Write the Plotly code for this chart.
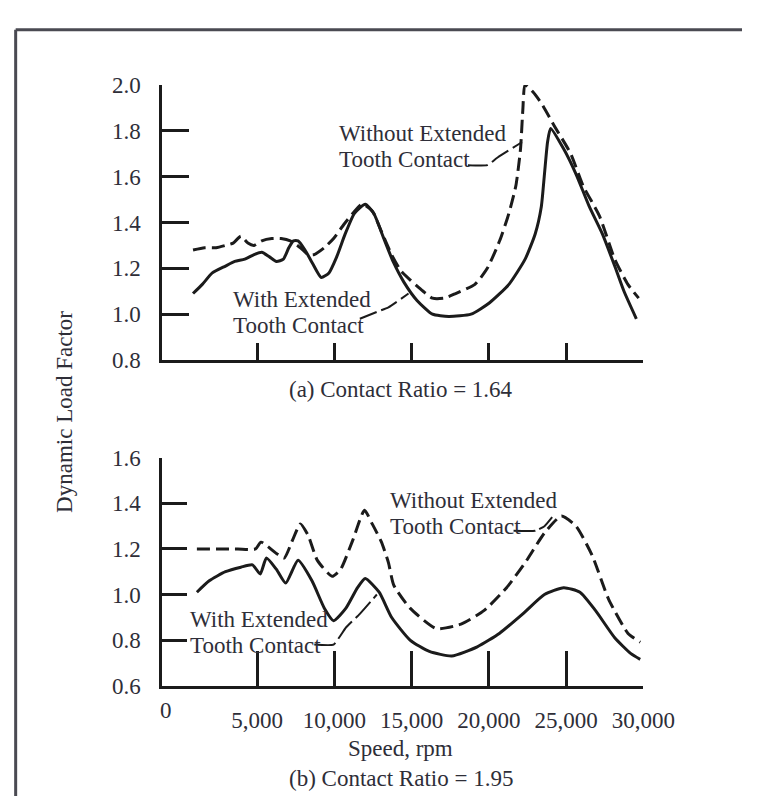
import plotly.graph_objects as go

# ---------------- data ----------------
# Panel (a) Contact Ratio = 1.64
a_with_rpm = [850, 1450, 2100, 2950, 3550, 4200, 4800, 5300, 5800, 6250, 6700, 7050, 7350, 7650,
              8100, 8600, 9150, 9650, 10150, 10700, 11300, 12000, 12550, 13200, 13800, 14500,
              15350, 16350, 17400, 18850, 20050, 21300, 22350, 23000, 23400, 23600, 23800, 24000,
              24850, 25650, 26500, 27350, 28150, 28750, 29550]
a_with_dlf = [1.09, 1.13, 1.18, 1.21, 1.23, 1.24, 1.26, 1.27, 1.25, 1.23, 1.24, 1.29, 1.32, 1.32,
              1.28, 1.22, 1.16, 1.18, 1.25, 1.35, 1.44, 1.48, 1.44, 1.33, 1.23, 1.14,
              1.06, 1.00, 0.99, 1.00, 1.05, 1.13, 1.24, 1.35, 1.47, 1.61, 1.75, 1.81,
              1.72, 1.61, 1.47, 1.35, 1.21, 1.10, 0.98]

a_without_rpm = [850, 1600, 2350, 2950, 3450, 3950, 4400, 4800, 5300, 5950, 6550, 7150, 7800, 8300,
                 8700, 9350, 9950, 10600, 11200, 11800, 12450, 13050, 13700, 14300, 14900, 15750,
                 16350, 17100, 17850, 19100, 19900, 20700, 21300, 21750, 22050, 22200, 22350,
                 22850, 23400, 24250, 25300, 26100, 27150, 28150, 29000, 29700]
a_without_dlf = [1.28, 1.29, 1.29, 1.30, 1.31, 1.34, 1.31, 1.30, 1.32, 1.33, 1.33, 1.32, 1.29, 1.26,
                 1.26, 1.29, 1.33, 1.39, 1.44, 1.48, 1.45, 1.36, 1.26, 1.19, 1.15, 1.10,
                 1.07, 1.07, 1.09, 1.13, 1.20, 1.32, 1.44, 1.56, 1.72, 1.89, 2.00,
                 1.97, 1.92, 1.82, 1.70, 1.56, 1.43, 1.24, 1.13, 1.07]

# Panel (b) Contact Ratio = 1.95
b_with_rpm = [1100, 1900, 2950, 3950, 4700, 5200, 5600, 6250, 6850, 7650, 8550, 9350, 9950, 10750,
              11500, 12000, 12900, 13700, 14900, 16150, 17600, 19250, 20700, 22200, 23600, 24850,
              25900, 26900, 28150, 29200, 29800]
b_with_dlf = [1.01, 1.06, 1.10, 1.12, 1.13, 1.09, 1.16, 1.11, 1.05, 1.15, 1.06, 0.94, 0.885, 0.94,
              1.03, 1.07, 1.01, 0.90, 0.80, 0.75, 0.73, 0.77, 0.83, 0.915, 1.00, 1.03,
              1.01, 0.93, 0.81, 0.74, 0.715]

b_without_rpm = [1100, 2350, 3750, 4900, 5250, 6250, 6750, 7300, 7800, 8300, 8900, 9850, 10400, 11200,
                 11950, 12450, 13050, 13500, 13850, 14900, 16600, 18200, 19700, 21150, 22350, 23600,
                 24700, 25650, 26700, 27750, 29000, 29800]
b_without_dlf = [1.20, 1.20, 1.20, 1.20, 1.23, 1.18, 1.16, 1.24, 1.31, 1.26, 1.15, 1.08, 1.11, 1.24,
                 1.37, 1.31, 1.23, 1.14, 1.04, 0.94, 0.85, 0.87, 0.93, 1.03, 1.14, 1.27,
                 1.345, 1.30, 1.17, 0.98, 0.83, 0.79]

# leader lines (label -> curve)
a_lead_without_rpm = [18650, 19900, 20500, 20950, 21900, 22150]
a_lead_without_dlf = [1.65, 1.65, 1.68, 1.70, 1.74, 1.75]
a_lead_with_rpm = [11650, 12750, 13500, 14800]
a_lead_with_dlf = [0.98, 1.01, 1.03, 1.09]
b_lead_without_rpm = [21600, 23000, 23600, 24100]
b_lead_without_dlf = [1.28, 1.28, 1.30, 1.34]
b_lead_with_rpm = [8700, 9950, 10750, 11650, 12750]
b_lead_with_dlf = [0.78, 0.78, 0.855, 0.915, 1.00]

x_tickvals = [5000, 10000, 15000, 20000, 25000, 30000]
x_ticktext = ["5,000", "10,000", "15,000", "20,000", "25,000", "30,000"]
a_y_tickvals = [0.8, 1.0, 1.2, 1.4, 1.6, 1.8, 2.0]
b_y_tickvals = [0.6, 0.8, 1.0, 1.2, 1.4, 1.6]

# ---------------- styling ----------------
W, H = 766, 801
FONT = "Liberation Serif"
TXT = "#2e2e38"
LINE = "#1b1b1b"
DASH = "13px,6px"
FS = 23


def px(x):
    return x / W


def py(y):
    return 1 - y / H


fig = go.Figure()


def curve(x, y, xa, ya, dash=None, width=3.0, smooth=0.55):
    fig.add_trace(go.Scatter(
        x=x, y=y, mode="lines", xaxis=xa, yaxis=ya, showlegend=False, hoverinfo="skip",
        line=dict(color=LINE, width=width, dash=dash, shape="spline", smoothing=smooth)))


curve(a_with_rpm, a_with_dlf, "x", "y")
curve(a_without_rpm, a_without_dlf, "x", "y", dash=DASH)
curve(b_with_rpm, b_with_dlf, "x2", "y2")
curve(b_without_rpm, b_without_dlf, "x2", "y2", dash=DASH)

curve(a_lead_without_rpm, a_lead_without_dlf, "x", "y", dash="20px,5px", width=2, smooth=0.4)
curve(a_lead_with_rpm, a_lead_with_dlf, "x", "y", dash="18px,5px", width=2, smooth=0.4)
curve(b_lead_without_rpm, b_lead_without_dlf, "x2", "y2", dash="22px,4px", width=2, smooth=0.4)
curve(b_lead_with_rpm, b_lead_with_dlf, "x2", "y2", dash="22px,5px", width=2, smooth=0.4)

xdom = [px(161), px(663)]
xrange = [-1141, 30000]
axis_common = dict(showgrid=False, zeroline=False, showline=True, linecolor=LINE, linewidth=3,
                   ticks="inside", tickcolor=LINE, tickwidth=2.5,
                   tickfont=dict(family=FONT, size=FS, color=TXT))

fig.update_layout(
    width=W, height=H, margin=dict(l=0, r=0, t=0, b=0),
    paper_bgcolor="white", plot_bgcolor="white",
    xaxis=dict(domain=xdom, range=xrange, anchor="y", tickvals=x_tickvals,
               showticklabels=False, ticklen=17, **axis_common),
    yaxis=dict(domain=[py(351), py(67)], range=[0.8, 2.0], anchor="x",
               tickvals=a_y_tickvals, tickformat=".1f", ticklen=27,
               ticklabelstandoff=14, **axis_common),
    xaxis2=dict(domain=xdom, range=xrange, anchor="y2", tickvals=x_tickvals,
                ticktext=x_ticktext, ticklen=35, ticklabelstandoff=12, **axis_common),
    yaxis2=dict(domain=[py(687), py(452)], range=[0.6, 1.6], anchor="x2",
                tickvals=b_y_tickvals, tickformat=".1f", ticklen=25,
                ticklabelstandoff=14, **axis_common),
)

anns = []


def text(s, x, y, anchor="left", angle=0):
    anns.append(dict(text=s, x=px(x), y=py(y), xref="paper", yref="paper", showarrow=False,
                     xanchor=anchor, yanchor="middle", textangle=angle,
                     font=dict(family=FONT, size=FS, color=TXT)))


text("Without Extended", 343, 117)
text("Tooth Contact", 343, 144)
text("With Extended", 233, 288)
text("Tooth Contact", 233, 315)
text("Without Extended", 397, 496)
text("Tooth Contact", 397, 523)
text("With Extended", 188, 619)
text("Tooth Contact", 188, 646)
text("(a) Contact Ratio = 1.64", 410, 381, anchor="center")
text("Speed, rpm", 410, 752, anchor="center")
text("(b) Contact Ratio = 1.95", 410, 783, anchor="center")
text("Dynamic Load Factor", 59, 405, anchor="center", angle=-90)
# "0" tick label (no tick mark at zero in the original)
anns.append(dict(text="0", x=0, y=py(713), xref="x2", yref="paper", showarrow=False,
                 xanchor="center", yanchor="middle", xshift=-14,
                 font=dict(family=FONT, size=FS, color=TXT)))
fig.update_layout(annotations=anns)

# outer frame (top and left edges)
fig.add_shape(type="line", xref="paper", yref="paper", x0=px(8), y0=py(10), x1=1, y1=py(10),
              line=dict(color="#4a4a52", width=3))
fig.add_shape(type="line", xref="paper", yref="paper", x0=px(8), y0=py(10), x1=px(8), y1=0,
              line=dict(color="#4a4a52", width=3))

fig.write_html("out.html")
